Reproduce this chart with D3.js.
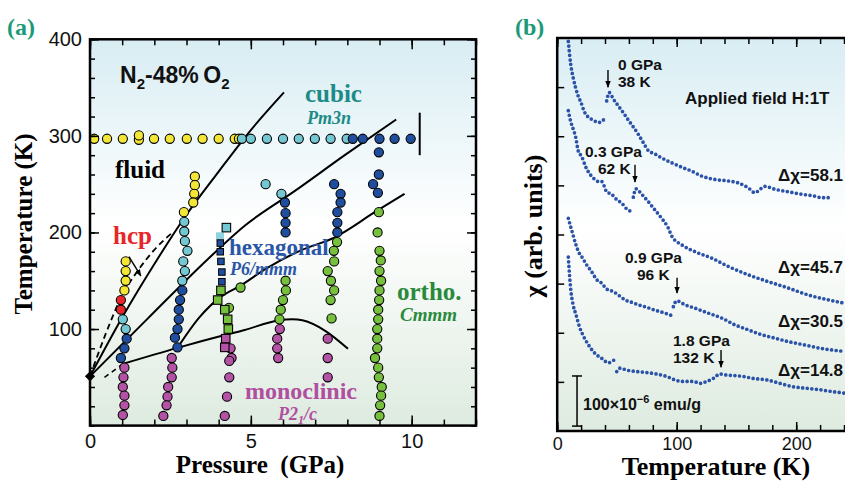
<!DOCTYPE html>
<html>
<head>
<meta charset="utf-8">
<script src="https://cdn.jsdelivr.net/npm/d3@7"></script>
<style>
body{margin:0;background:#fff}
svg{display:block}
.serif{font-family:"Liberation Serif","Times New Roman",serif;font-weight:bold}
.sans{font-family:"Liberation Sans",Arial,sans-serif}
</style>
</head>
<body>
<svg id="chart" width="845" height="482"></svg>
<script>
// ---- panel (a): phase diagram, points are [pressure GPa, temperature K]
let fluidPts = [[0.13,297],[0.53,297],[1.02,297],[1.52,296],[1.52,300.5],[1.99,297],[2.48,297],[3.01,297],[3.5,297],[4.0,297],[4.5,297],[4.63,297],
  [1.11,170],[1.11,160],[1.11,150],[1.07,140],
  [3.26,258],[3.26,249],[3.24,240],[3.21,231],[2.92,221]]
let hcpPts = [[0.96,130],[0.96,120]]
let cubicPts = [[4.72,297],[5.0,297],[5.5,297],[6.0,297],[6.49,297],[6.99,297],[7.48,297],[7.98,297],
  [1.02,110],[1.11,100],
  [2.93,211],[2.93,201],[2.95,191],[3.03,181],[2.9,170],[2.95,160],[2.87,150],
  [5.46,250],[5.95,240]]
let hexPts = [[8.17,297],[8.48,297],[9.0,297],[9.47,297],[9.97,297],
  [1.14,90],[1.07,80],[0.96,70],
  [2.87,140],[2.8,130],[2.76,120],[2.76,110],[2.72,100],[2.64,91],[2.72,81],
  [6.06,231],[6.08,220],[6.08,210],[6.08,200],
  [7.59,250],[7.79,240],[7.79,231],[7.69,221],[7.69,210],[7.69,200],
  [8.98,283],[8.98,260],[8.8,250],[8.95,241]]
let orthoPts = [[4.68,143],[4.32,122],
  [6.08,150],[6.09,140],[6.0,130],[5.93,120],[5.89,110],
  [7.68,190],[7.58,181],[7.59,170],[7.39,160],[7.49,150],[7.59,140],[7.48,130],[7.51,111],
  [8.98,221],[8.94,200],[9.0,181],[9.04,171],[9.0,160],[9.05,150],[9.0,140],[8.99,130],[8.96,120],[8.96,110],
  [8.93,100],[8.93,90],[8.93,80],[8.86,70],[8.96,60],[8.98,50],[9.07,40],[9.05,31],[9.02,21],[9.0,10]]
let monoPts = [[1.07,60],[1.04,50],[1.02,40],[1.07,31],[1.07,21],[1.02,11],
  [2.54,70],[2.56,60],[2.54,50],[2.43,40],[2.41,30],[2.38,21],[2.28,10],
  [4.37,80],[4.4,70],[4.33,67],[4.33,50],[4.26,30],[4.19,10],
  [5.9,100],[5.82,90],[5.82,80],[5.85,70],
  [7.39,90],[7.39,70],[7.39,50]]
let cubicSq = [[4.24,205]]
let paleSq = [[4.04,196]]
let hexSq = [[4.05,189],[4.05,180],[4.07,170],[4.1,159],[4.1,149]]
let orthoSq = [[4.07,140],[3.97,130],[4.19,120],[4.28,110],[4.3,100]]
let monoSq = [[4.22,90],[4.19,81]]

let meltLine = [[0,51],[1,112],[2.07,171],[2.95,216],[4,263],[5.0,306],[6.03,345]]
let hcpDash = [[0,51],[0.5,96],[1.0,135],[1.5,161],[2.0,182],[2.6,201]]
let hexLine = [[0,51],[1.8,111],[3.62,171],[4.81,207],[6.37,243],[7.92,280],[9.52,317]]
let orthoLine = [[2.72,80.5],[3.4,112],[4.05,133],[4.68,145],[5.5,163],[6.52,181],[7.61,195],[8.9,222],[9.78,240]]
let monoDash = [[0.45,50],[1.03,64]]
let monoLine = [[1.03,64],[2.72,80.5],[4.22,94],[4.81,99],[5.85,108.8],[6.3,110],[6.6,109],[7.3,98.4],[8.02,79.5]]
let triplePt = [[0,51]]
let roomBar = [[10.25,280],[10.25,324]]

// ---- panel (b): susceptibility, points are [temperature K, chi arb. units]
let chi0a = [[9.3,7.93],[11.3,7.47],[13.5,7.18],[15.5,6.98],[17.7,6.81],[19.9,6.69],[22.7,6.5],[26,6.39],[30.2,6.33],[34.4,6.28],[37.2,6.3],[39.4,6.36],[40,6.39]]
let chi0b = [[41.4,6.72],[43.6,6.89],[46.9,6.76],[51.1,6.62],[55.3,6.48],[59.5,6.33],[63.7,6.19],[67.9,6.04],[72.1,5.87],[76.2,5.71],[81.8,5.64],[87.4,5.56],[95.8,5.46],[104.2,5.37],[112.6,5.29],[120.9,5.19],[132.1,5.12],[143.2,5.09],[151.5,5.05],[159.9,4.95],[165.5,4.85],[169.7,4.92],[173.9,4.98],[182.3,4.92],[193.4,4.87],[204.6,4.82],[215.7,4.78],[221.3,4.75],[229.7,4.75]]
let chi03a = [[9.3,6.52],[11.3,6.3],[13.5,6.14],[15.5,5.98],[17.7,5.69],[20.5,5.59],[23.8,5.38],[26,5.28],[30.2,5.15],[34.4,5.08],[37.2,5.08],[41.4,4.87],[45.6,4.82],[49.8,4.71],[54,4.64],[58.2,4.52],[61.8,4.47]]
let chi03b = [[63.7,4.76],[65.9,4.93],[70.7,4.82],[76.2,4.67],[81.8,4.5],[87.4,4.33],[93,4.13],[95.8,3.97],[104.2,3.79],[115.3,3.65],[129.3,3.52],[143.2,3.35],[159.9,3.18],[176.7,3.04],[193.4,2.91],[210.1,2.77],[226.9,2.67],[240.8,2.6]]
let chi09a = [[9.3,4.33],[12.1,4.09],[15.7,3.79],[18.2,3.63],[20.5,3.55],[24.7,3.38],[28.9,3.24],[33.1,3.08],[37.2,3.01],[41.4,2.89],[46.9,2.84],[51.1,2.77],[56.7,2.67],[62.3,2.62],[67.9,2.57],[73.5,2.53],[81.8,2.46],[90.2,2.4],[95.8,2.35]]
let chi09b = [[97.2,2.53],[100,2.65],[106.9,2.57],[115.3,2.5],[126.4,2.4],[137.7,2.3],[148.8,2.16],[159.9,2.06],[171.1,1.96],[182.3,1.89],[193.4,1.82],[207.4,1.75],[221.3,1.68],[240.8,1.62]]
let chi18a = [[9.3,3.54],[11.3,2.89],[13.5,2.55],[15.7,2.37],[18.5,2.13],[21.8,1.94],[26,1.76],[31.6,1.58],[37.2,1.48],[42.8,1.39],[47.8,1.45]]
let chi18b = [[49.8,1.21],[52.6,1.28],[58.2,1.24],[66.5,1.21],[74.9,1.19],[83.3,1.16],[91.6,1.11],[98.6,1.04],[104.2,1.01],[113.9,1.01],[119.5,0.97],[125.1,1.01],[130.6,1.07],[136.2,1.16],[141.8,1.14],[147.4,1.13],[155.7,1.11],[164.1,1.07],[175.3,1.04],[186.4,0.97],[197.6,0.9],[208.8,0.87],[219.9,0.84],[231,0.8],[240.8,0.77]]

// transition arrows: [T, chi top, chi bottom] and labels
let transArrows = [[42.5,7.35,7.0],[65.1,5.42,5.07],[100.3,3.12,2.81],[137.1,1.65,1.3]]
let transLabels = [["0 GPa","38 K"],["0.3 GPa","62 K"],["0.9 GPa","96 K"],["1.8 GPa","132 K"]]
let deltaLabels = ["Δχ=58.1","Δχ=45.7","Δχ=30.5","Δχ=14.8"]

let svg = d3.select("#chart")
let defs = svg.append("defs")
let grad = defs.append("linearGradient").attr("id","bg").attr("x1",0).attr("y1",0).attr("x2",0).attr("y2",1)
grad.append("stop").attr("offset","0%").attr("stop-color","#d8edf3")
grad.append("stop").attr("offset","48%").attr("stop-color","#ffffff")
grad.append("stop").attr("offset","100%").attr("stop-color","#deebe0")
defs.append("marker").attr("id","arr").attr("viewBox","0 0 10 10").attr("refX",9).attr("refY",5)
  .attr("markerWidth",7).attr("markerHeight",7).attr("markerUnits","userSpaceOnUse").attr("orient","auto")
  .append("path").attr("d","M0,1 L10,5 L0,9 z").attr("fill","#000")

// scales
let ax = d3.scaleLinear().domain([0,12]).range([90,476])
let ay = d3.scaleLinear().domain([0,400]).range([425.6,39.3])
let bx = d3.scaleLinear().domain([0,260]).range([557.2,867.9])
let by = d3.scaleLinear().domain([0,8]).range([431,38])

function addAxis(gen, tr, fs){
  let a = svg.append("g").attr("transform",tr).call(gen)
  a.select(".domain").remove()
  a.selectAll("line").attr("stroke","#000").attr("stroke-width",1.5)
  a.selectAll("text").attr("font-family","Liberation Sans, Arial, sans-serif").attr("font-size",fs).attr("fill","#111")
  return a
}

// ---------- panel (a)
svg.append("rect").attr("x",ax(0)).attr("y",ay(400)).attr("width",ax(12)-ax(0)).attr("height",ay(0)-ay(400)).attr("fill","url(#bg)")

let aLine = d3.line().x(d=>ax(d[0])).y(d=>ay(d[1])).curve(d3.curveMonotoneX)
let gLines = svg.append("g").attr("fill","none").attr("stroke","#000")
gLines.append("path").attr("d",aLine(meltLine)).attr("stroke-width",2)
gLines.append("path").attr("d",aLine(hexLine)).attr("stroke-width",2)
gLines.append("path").attr("d",aLine(orthoLine)).attr("stroke-width",2)
gLines.append("path").attr("d",aLine(monoLine)).attr("stroke-width",2)
gLines.append("path").attr("d",aLine(hcpDash)).attr("stroke-width",1.8).attr("stroke-dasharray","6,4")
gLines.append("path").attr("d",aLine(monoDash)).attr("stroke-width",1.6).attr("stroke-dasharray","5,4")
gLines.append("path").attr("d",d3.line().x(d=>ax(d[0])).y(d=>ay(d[1]))(roomBar)).attr("stroke-width",2)

function circles(data, fill){
  svg.append("g").selectAll("circle").data(data).enter().append("circle")
    .attr("cx",d=>ax(d[0])).attr("cy",d=>ay(d[1])).attr("r",4.6)
    .attr("fill",fill).attr("stroke","#000").attr("stroke-width",1.1)
}
function squares(data, fill, s, sw){
  svg.append("g").selectAll("rect").data(data).enter().append("rect")
    .attr("x",d=>ax(d[0])-s/2).attr("y",d=>ay(d[1])-s/2).attr("width",s).attr("height",s)
    .attr("fill",fill).attr("stroke",sw>0?"#000":"none").attr("stroke-width",sw)
}
circles(fluidPts,"#f4e637")
circles(hcpPts,"#e8262a")
circles(cubicPts,"#74c8d3")
circles(hexPts,"#1f4e9e")
circles(orthoPts,"#76c03e")
circles(monoPts,"#b452a6")
squares(paleSq,"#8fd3e0",8,0)
squares(cubicSq,"#74c8d3",8.5,1.1)
squares(hexSq,"#1f4e9e",6.5,1)
squares(orthoSq,"#76c03e",8.5,1.1)
squares(monoSq,"#b452a6",8.5,1.1)

svg.append("g").selectAll("path").data(triplePt).enter().append("path")
  .attr("d",d3.symbol(d3.symbolSquare,52)())
  .attr("transform",d=>"translate("+ax(d[0])+","+ay(d[1])+") rotate(45)").attr("fill","#000")

// hcp arrow
svg.append("line").attr("x1",ax(1.21)).attr("y1",ay(175)).attr("x2",ax(1.58)).attr("y2",ay(155))
  .attr("stroke","#000").attr("stroke-width",1.4).attr("marker-end","url(#arr)")

// axes (a)
addAxis(d3.axisBottom(ax).tickValues(d3.range(0,13)).tickSizeInner(-6).tickFormat(""),"translate(0,"+ay(0)+")",20)
addAxis(d3.axisBottom(ax).tickValues([0,5,10]).tickSizeInner(-10).tickPadding(8),"translate(0,"+ay(0)+")",20)
addAxis(d3.axisTop(ax).tickValues(d3.range(0,13)).tickSizeInner(-6).tickFormat(""),"translate(0,"+ay(400)+")",20)
addAxis(d3.axisTop(ax).tickValues([0,5,10]).tickSizeInner(-10).tickFormat(""),"translate(0,"+ay(400)+")",20)
addAxis(d3.axisLeft(ay).tickValues(d3.range(0,401,20)).tickSizeInner(-5).tickFormat(""),"translate("+ax(0)+",0)",20)
addAxis(d3.axisLeft(ay).tickValues([100,200,300,400]).tickSizeInner(-9).tickPadding(8),"translate("+ax(0)+",0)",20)
addAxis(d3.axisRight(ay).tickValues(d3.range(0,401,20)).tickSizeInner(-5).tickFormat(""),"translate("+ax(12)+",0)",20)
addAxis(d3.axisRight(ay).tickValues([100,200,300,400]).tickSizeInner(-9).tickFormat(""),"translate("+ax(12)+",0)",20)
svg.append("rect").attr("x",ax(0)).attr("y",ay(400)).attr("width",ax(12)-ax(0)).attr("height",ay(0)-ay(400))
  .attr("fill","none").attr("stroke","#000").attr("stroke-width",2.5)

// labels (a)
function label(x,y,txt,cls,size,fill,style){
  return svg.append("text").attr("class",cls).attr("x",x).attr("y",y).attr("font-size",size)
    .attr("fill",fill||"#000").attr("font-style",style||"normal").text(txt)
}
label(7,35,"(a)","serif",24,"#1b9a78")
label(515,35,"(b)","serif",24,"#1b9a78")
let tN = svg.append("text").attr("class","sans").attr("x",120).attr("y",83).attr("font-size",23)
  .attr("font-weight","bold").attr("fill","#111")
tN.append("tspan").text("N")
tN.append("tspan").attr("font-size",15).attr("dy",6).text("2")
tN.append("tspan").attr("dy",-6).text("-48%\u2009O")
tN.append("tspan").attr("font-size",15).attr("dy",6).text("2")
label(115,178,"fluid","serif",25)
label(113,244,"hcp","serif",25,"#e8262a")
label(305,102,"cubic","serif",25,"#1d8b87")
label(307,124,"Pm3n","serif",18,"#1d8b87","italic")
label(229,255,"hexagonal","serif",23,"#2a56a8")
label(230,275,"P6/mmm","serif",18,"#2a56a8","italic")
label(397,300,"ortho.","serif",25,"#2a8a3c")
label(400,321,"Cmmm","serif",19,"#2a8a3c","italic")
label(245,399,"monoclinic","serif",24,"#b04ea0")
let tP = svg.append("text").attr("class","serif").attr("x",278).attr("y",420).attr("font-size",18)
  .attr("fill","#b04ea0").attr("font-style","italic")
tP.append("tspan").text("P2")
tP.append("tspan").attr("font-size",12).attr("dy",4).text("1")
tP.append("tspan").attr("dy",-4).text("/c")
svg.append("text").attr("class","serif").attr("x",260).attr("y",473).attr("text-anchor","middle")
  .attr("font-size",25).attr("xml:space","preserve").text("Pressure  (GPa)")
svg.append("text").attr("class","serif").attr("transform","translate(32,224) rotate(-90)")
  .attr("text-anchor","middle").attr("font-size",25).text("Temperature (K)")

// ---------- panel (b)
svg.append("rect").attr("x",bx(0)).attr("y",by(8)).attr("width",bx(260)-bx(0)).attr("height",by(0)-by(8)).attr("fill","url(#bg)")

let bLine = d3.line().x(d=>bx(d[0])).y(d=>by(d[1])).curve(d3.curveMonotoneX)
let curves = [chi0a,chi0b,chi03a,chi03b,chi09a,chi09b,chi18a,chi18b]
svg.append("g").selectAll("path").data(curves).enter().append("path")
  .attr("d",d=>bLine(d)).attr("fill","none").attr("stroke","#2a52a8")
  .attr("stroke-width",3.7).attr("stroke-linecap","round").attr("stroke-dasharray","0,4.6")

addAxis(d3.axisBottom(bx).tickValues(d3.range(0,261,20)).tickSizeInner(-6).tickFormat(""),"translate(0,"+by(0)+")",18)
addAxis(d3.axisBottom(bx).tickValues([0,100,200]).tickSizeInner(-9).tickPadding(6),"translate(0,"+by(0)+")",18)
addAxis(d3.axisTop(bx).tickValues(d3.range(0,261,20)).tickSizeInner(-6).tickFormat(""),"translate(0,"+by(8)+")",18)
addAxis(d3.axisTop(bx).tickValues([0,100,200]).tickSizeInner(-9).tickFormat(""),"translate(0,"+by(8)+")",18)
addAxis(d3.axisLeft(by).tickValues(d3.range(1,8)).tickSizeInner(-7).tickFormat(""),"translate("+bx(0)+",0)",18)
svg.append("rect").attr("x",bx(0)).attr("y",by(8)).attr("width",bx(260)-bx(0)).attr("height",by(0)-by(8))
  .attr("fill","none").attr("stroke","#000").attr("stroke-width",2.5)

// transition arrows + labels
svg.append("g").selectAll("line").data(transArrows).enter().append("line")
  .attr("x1",d=>bx(d[0])).attr("x2",d=>bx(d[0])).attr("y1",d=>by(d[1])).attr("y2",d=>by(d[2]))
  .attr("stroke","#000").attr("stroke-width",1.4).attr("marker-end","url(#arr)")
let labPos = [[618,70,618,87],[585,157,598,174],[625,263,637,280],[673,346,673,363]]
transLabels.forEach((t,i)=>{
  label(labPos[i][0],labPos[i][1],t[0],"sans",15.5,"#111").attr("font-weight","bold")
  label(labPos[i][2],labPos[i][3],t[1],"sans",15.5,"#111").attr("font-weight","bold")
})
let deltaY = [181,273,327,376]
deltaLabels.forEach((t,i)=>label(778,deltaY[i],t,"sans",17,"#111").attr("font-weight","bold"))
label(685,104,"Applied field H:1T","sans",17,"#111").attr("font-weight","bold")

// scale bar
let sb = svg.append("g").attr("stroke","#000").attr("stroke-width",1.5)
sb.append("line").attr("x1",bx(16.6)).attr("x2",bx(16.6)).attr("y1",by(1.12)).attr("y2",by(0.1))
sb.append("line").attr("x1",bx(16.6)-5).attr("x2",bx(16.6)+5).attr("y1",by(1.12)).attr("y2",by(1.12))
sb.append("line").attr("x1",bx(16.6)-5).attr("x2",bx(16.6)+5).attr("y1",by(0.1)).attr("y2",by(0.1))
let tS = svg.append("text").attr("class","sans").attr("x",583).attr("y",410).attr("font-size",16)
  .attr("font-weight","bold").attr("fill","#111")
tS.append("tspan").text("100\u00d710")
tS.append("tspan").attr("font-size",11).attr("dy",-7).text("\u22126")
tS.append("tspan").attr("dy",7).text(" emu/g")

svg.append("text").attr("class","serif").attr("x",716).attr("y",475).attr("text-anchor","middle")
  .attr("font-size",26).text("Temperature (K)")
svg.append("text").attr("class","serif").attr("transform","translate(542,226) rotate(-90)")
  .attr("text-anchor","middle").attr("font-size",26).text("\u03c7 (arb. units)")
</script>
</body>
</html>
